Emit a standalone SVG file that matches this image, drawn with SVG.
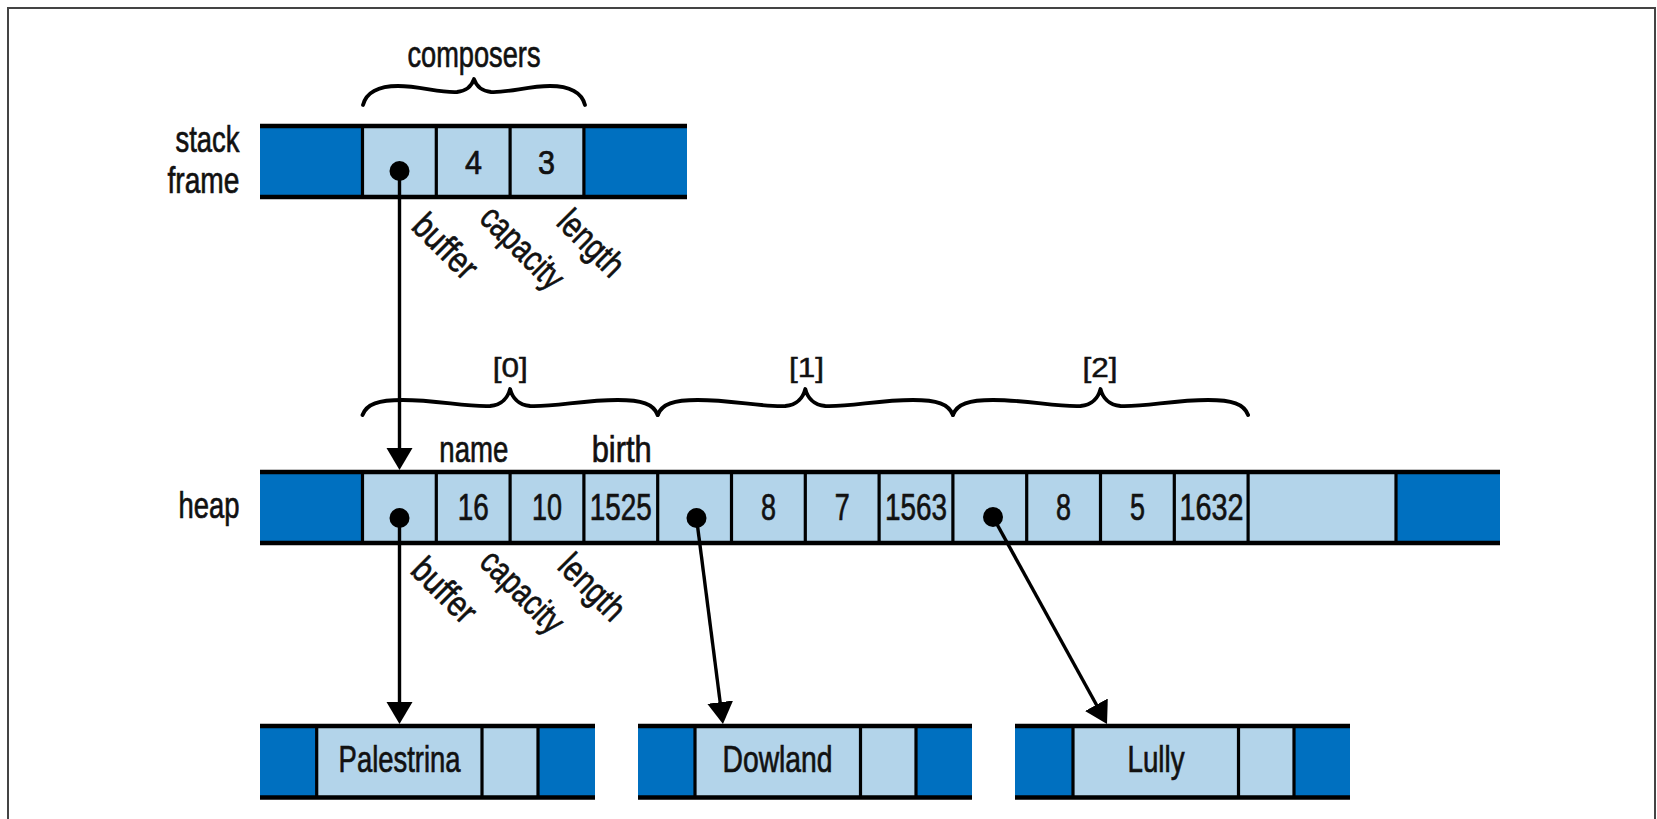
<svg xmlns="http://www.w3.org/2000/svg" width="1657" height="819" viewBox="0 0 1657 819">
  <defs>
    <style>
      .dk { fill: #0070c0; }
      .lt { fill: #b3d4ea; }
      .rule { stroke: #000; stroke-width: 4.5; fill: none; }
      .sep { stroke: #000; stroke-width: 3.2; fill: none; }
      .brace { stroke: #000; stroke-width: 3.8; fill: none; stroke-linecap: round; stroke-linejoin: round; }
      .wire { stroke: #000; stroke-width: 3.4; fill: none; }
      .dot { fill: #000; }
      text { font-family: "Liberation Sans", Arial, sans-serif; fill: #111; stroke: #111; stroke-width: 0.7px; }
      .lbl { font-size: 37.5px; }
      .num { font-size: 37.5px; text-anchor: middle; }
      .snum { font-size: 34px; text-anchor: middle; }
      .idx { font-size: 28.5px; text-anchor: middle; stroke-width: 0.5px; }
      .fld { font-size: 36px; }
      .side { font-size: 37.5px; text-anchor: end; }
      .mid { text-anchor: middle; }
    </style>
    <marker id="head" markerUnits="userSpaceOnUse" viewBox="0 -14 24 28" markerWidth="24" markerHeight="28" refX="12" refY="0" orient="auto">
      <path d="M0,-13 L22,0 L0,13 Z" fill="#000"/>
    </marker>
    <!-- curly brace spanning four heap cells (295.2 px) -->
    <path id="brace4" class="brace" d="M0,415 C4,404 16,400 40,400 C75,400 102.6,407 127.6,406 C139.6,405 145.6,397 147.6,389 C149.6,397 155.6,405 167.6,406 C192.6,407 220.2,400 255.2,400 C279.2,400 291.2,404 295.2,415"/>
  </defs>

  <rect x="8" y="8" width="1647" height="830" fill="none" stroke="#444" stroke-width="2"/>

  <!-- stack frame holding the Vec header -->
  <g id="stack-frame">
    <text class="side" x="239.5" y="151.7" textLength="64" lengthAdjust="spacingAndGlyphs">stack</text>
    <text class="side" x="239.5" y="192.7" textLength="72" lengthAdjust="spacingAndGlyphs">frame</text>
    <rect class="dk" x="260" y="126" width="102.5" height="71"/>
    <rect class="lt" x="362.5" y="126" width="221.4" height="71"/>
    <rect class="dk" x="583.9" y="126" width="103.1" height="71"/>
    <path class="sep" d="M362.5,126V197M436.3,126V197M510.1,126V197M583.9,126V197"/>
    <path class="rule" d="M260,126H687M260,197H687"/>
    <circle class="dot" cx="399.5" cy="171" r="10"/>
    <text class="snum" x="473.5" y="173.5" textLength="17" lengthAdjust="spacingAndGlyphs">4</text>
    <text class="snum" x="546.5" y="173.5" textLength="17" lengthAdjust="spacingAndGlyphs">3</text>
    <text class="fld" transform="translate(410,228) rotate(45)" textLength="76" lengthAdjust="spacingAndGlyphs">buffer</text>
    <text class="fld" transform="translate(478,220) rotate(45)" textLength="102" lengthAdjust="spacingAndGlyphs">capacity</text>
    <text class="fld" transform="translate(555,224) rotate(45)" textLength="78" lengthAdjust="spacingAndGlyphs">length</text>
  </g>

  <g id="composers-brace">
    <text class="lbl mid" x="474" y="66.7" textLength="133" lengthAdjust="spacingAndGlyphs">composers</text>
    <path class="brace" d="M363,105 C366,93 378,86 398,86 C420,86 440,93 457,92 C467,91 472,85 474,79 C476,85 481,91 491,92 C508,93 528,86 550,86 C570,86 582,93 585,105"/>
  </g>

  <!-- heap buffer with three String/birth elements -->
  <g id="heap">
    <text class="side" x="239.5" y="518.3" textLength="61" lengthAdjust="spacingAndGlyphs">heap</text>
    <rect class="dk" x="260" y="472" width="102.5" height="71"/>
    <rect class="lt" x="362.5" y="472" width="1033.5" height="71"/>
    <rect class="dk" x="1396" y="472" width="104" height="71"/>
    <path class="sep" d="M362.5,472V543M436.3,472V543M510.1,472V543M583.9,472V543M657.7,472V543M731.5,472V543M805.3,472V543M879.1,472V543M952.9,472V543M1026.7,472V543M1100.5,472V543M1174.3,472V543M1248.1,472V543M1396,472V543"/>
    <path class="rule" d="M260,472H1500M260,543H1500"/>
    <circle class="dot" cx="399.5" cy="518" r="10"/>
    <circle class="dot" cx="696.5" cy="518" r="10"/>
    <circle class="dot" cx="993" cy="517" r="10"/>
    <text class="num" x="473.2" y="520" textLength="31" lengthAdjust="spacingAndGlyphs">16</text>
    <text class="num" x="547" y="520" textLength="30" lengthAdjust="spacingAndGlyphs">10</text>
    <text class="num" x="620.8" y="520" textLength="62" lengthAdjust="spacingAndGlyphs">1525</text>
    <text class="num" x="768.4" y="520" textLength="15" lengthAdjust="spacingAndGlyphs">8</text>
    <text class="num" x="842.2" y="520" textLength="15" lengthAdjust="spacingAndGlyphs">7</text>
    <text class="num" x="916" y="520" textLength="62" lengthAdjust="spacingAndGlyphs">1563</text>
    <text class="num" x="1063.6" y="520" textLength="15" lengthAdjust="spacingAndGlyphs">8</text>
    <text class="num" x="1137.4" y="520" textLength="15" lengthAdjust="spacingAndGlyphs">5</text>
    <text class="num" x="1211.5" y="520" textLength="64" lengthAdjust="spacingAndGlyphs">1632</text>
    <text class="lbl mid" x="473.8" y="461.7" textLength="69" lengthAdjust="spacingAndGlyphs">name</text>
    <text class="lbl mid" x="621.7" y="461.7" textLength="60" lengthAdjust="spacingAndGlyphs">birth</text>
    <text class="fld" transform="translate(409,572) rotate(45)" textLength="76" lengthAdjust="spacingAndGlyphs">buffer</text>
    <text class="fld" transform="translate(478,564) rotate(45)" textLength="102" lengthAdjust="spacingAndGlyphs">capacity</text>
    <text class="fld" transform="translate(556,568) rotate(45)" textLength="78" lengthAdjust="spacingAndGlyphs">length</text>
  </g>

  <g id="element-braces">
    <use href="#brace4" x="362.5"/>
    <use href="#brace4" x="657.7"/>
    <use href="#brace4" x="952.9"/>
    <text class="idx" x="510.3" y="377" textLength="35" lengthAdjust="spacingAndGlyphs">[0]</text>
    <text class="idx" x="806.5" y="377" textLength="35" lengthAdjust="spacingAndGlyphs">[1]</text>
    <text class="idx" x="1100" y="377" textLength="35" lengthAdjust="spacingAndGlyphs">[2]</text>
  </g>

  <!-- string buffers on the heap -->
  <g id="palestrina">
    <rect class="dk" x="260" y="726" width="56.7" height="71.5"/>
    <rect class="lt" x="316.7" y="726" width="221.3" height="71.5"/>
    <rect class="dk" x="538" y="726" width="57" height="71.5"/>
    <path class="sep" d="M316.7,726V797.5M482,726V797.5M538,726V797.5"/>
    <path class="rule" d="M260,726H595M260,797.5H595"/>
    <text class="lbl mid" x="399.6" y="771.7" textLength="122" lengthAdjust="spacingAndGlyphs">Palestrina</text>
  </g>
  <g id="dowland">
    <rect class="dk" x="638" y="726" width="57" height="71.5"/>
    <rect class="lt" x="695" y="726" width="221" height="71.5"/>
    <rect class="dk" x="916" y="726" width="56" height="71.5"/>
    <path class="sep" d="M695,726V797.5M860.5,726V797.5M916,726V797.5"/>
    <path class="rule" d="M638,726H972M638,797.5H972"/>
    <text class="lbl mid" x="777.5" y="771.7" textLength="110" lengthAdjust="spacingAndGlyphs">Dowland</text>
  </g>
  <g id="lully">
    <rect class="dk" x="1015" y="726" width="58" height="71.5"/>
    <rect class="lt" x="1073" y="726" width="221" height="71.5"/>
    <rect class="dk" x="1294" y="726" width="56" height="71.5"/>
    <path class="sep" d="M1073,726V797.5M1238.5,726V797.5M1294,726V797.5"/>
    <path class="rule" d="M1015,726H1350M1015,797.5H1350"/>
    <text class="lbl mid" x="1156" y="771.7" textLength="57" lengthAdjust="spacingAndGlyphs">Lully</text>
  </g>

  <!-- pointers -->
  <g id="connectors">
    <path class="wire" d="M399.5,171V460" marker-end="url(#head)"/>
    <path class="wire" d="M399.5,518V714" marker-end="url(#head)"/>
    <path class="wire" d="M696.5,518L721.7,714.1" marker-end="url(#head)"/>
    <path class="wire" d="M993,517L1102.2,715.2" marker-end="url(#head)"/>
  </g>
</svg>
